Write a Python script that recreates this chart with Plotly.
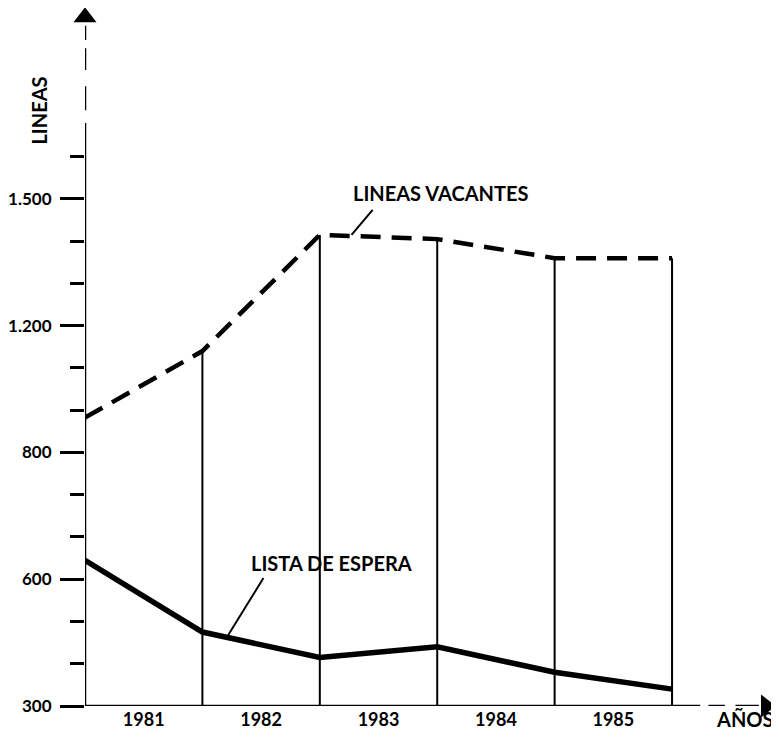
import numpy as np
import plotly.graph_objects as go

# data
years = ['1981', '1982', '1983', '1984', '1985']
lineas_vacantes = [910, 1120, 1415, 1405, 1360, 1360]
lista_espera = [630, 475, 415, 440, 380, 340]

# the printed y scale is not linear: labels are evenly spaced
y_labels = [300, 600, 800, 1200, 1500]
y_label_text = ['300', '600', '800', '1.200', '1.500']
y_slots = [0, 3, 6, 9, 12]


def to_axis(vals):
    return list(np.interp(vals, y_labels, y_slots))


x_pts = list(range(len(lineas_vacantes)))
vac = to_axis(lineas_vacantes)
esp = to_axis(lista_espera)

FONT = 'Lato'
INK = 'black'

fig = go.Figure()

# vertical dividers from the base up to the vacantes line
vx, vy = [], []
for i in x_pts[1:]:
    vx += [i, i, None]
    vy += [0, vac[i], None]
fig.add_trace(go.Scatter(x=vx, y=vy, mode='lines', line=dict(color=INK, width=2),
                         cliponaxis=False, hoverinfo='skip'))

fig.add_trace(go.Scatter(x=x_pts, y=vac, mode='lines',
                         line=dict(color=INK, width=4.5, dash='20px,11px'),
                         cliponaxis=False, name='LINEAS VACANTES'))
fig.add_trace(go.Scatter(x=x_pts, y=esp, mode='lines',
                         line=dict(color=INK, width=5.5),
                         cliponaxis=False, name='LISTA DE ESPERA'))

# arrow heads
fig.add_trace(go.Scatter(x=[0], y=[16.3], mode='markers',
                         marker=dict(symbol='triangle-up', size=20, color=INK),
                         cliponaxis=False, hoverinfo='skip'))
fig.add_trace(go.Scatter(x=[5.80], y=[0], mode='markers',
                         marker=dict(symbol='triangle-right', size=20, color=INK),
                         cliponaxis=False, hoverinfo='skip'))

shapes = []
ax_line = dict(color=INK, width=2.5)
# y axis: solid, then broken towards the arrow
shapes.append(dict(type='line', x0=0, x1=0, y0=0, y1=13.8, line=ax_line))
for a, b in [(14.1, 14.67), (15.05, 15.57), (15.76, 16.1)]:
    shapes.append(dict(type='line', x0=0, x1=0, y0=a, y1=b, line=ax_line))
# x axis: solid, then broken towards the arrow
shapes.append(dict(type='line', x0=0, x1=5.24, y0=0, y1=0, line=ax_line))
for a, b in [(5.31, 5.45), (5.54, 5.74)]:
    shapes.append(dict(type='line', x0=a, x1=b, y0=0, y1=0, line=ax_line))
# leader lines for the labels
lead = dict(color=INK, width=2)
shapes.append(dict(type='line', x0=2.45, y0=11.74, x1=2.27, y1=11.15, line=lead))
shapes.append(dict(type='line', x0=1.52, y0=3.03, x1=1.22, y1=1.68, line=lead))

lab_font = dict(family=FONT, size=20, color=INK, weight='bold')
annotations = [
    dict(x=3.03, y=12.14, text='LINEAS VACANTES', showarrow=False, font=lab_font),
    dict(x=2.10, y=3.385, text='LISTA DE ESPERA', showarrow=False, font=lab_font),
    dict(x=5.62, yref='paper', y=-0.019, yanchor='middle', text='AÑOS',
         showarrow=False, font=lab_font),
    dict(x=-0.086, xref='paper', y=14.1, text='LINEAS', textangle=-90,
         showarrow=False, font=lab_font),
]

# the page body adds an 8px offset, so the figure is 8px smaller
fig.update_layout(
    width=771, height=729,
    margin=dict(l=77, r=0, t=0, b=31),
    paper_bgcolor='white', plot_bgcolor='white',
    showlegend=False,
    shapes=shapes,
    annotations=annotations,
)
fig.update_xaxes(
    range=[0, 5.911], showgrid=False, zeroline=False, showline=False,
    automargin=False,
    tickmode='array', tickvals=[i + 0.5 for i in range(len(years))], ticktext=years,
    ticks='', tickfont=dict(family=FONT, size=18, color=INK, weight='bold'),
    ticklabelstandoff=1,
)
fig.update_yaxes(
    range=[0, 16.52], showgrid=False, zeroline=False, showline=False,
    automargin=False,
    tickmode='array', tickvals=y_slots, ticktext=y_label_text,
    ticks='outside', ticklen=24, tickwidth=2.5, tickcolor=INK,
    minor=dict(tickmode='array', tickvals=list(range(0, 14)), ticks='outside',
               ticklen=14, tickwidth=2.5, tickcolor=INK),
    tickfont=dict(family=FONT, size=17, color=INK, weight='bold'),
    ticklabelstandoff=5,
)

fig.write_html('out.html')
